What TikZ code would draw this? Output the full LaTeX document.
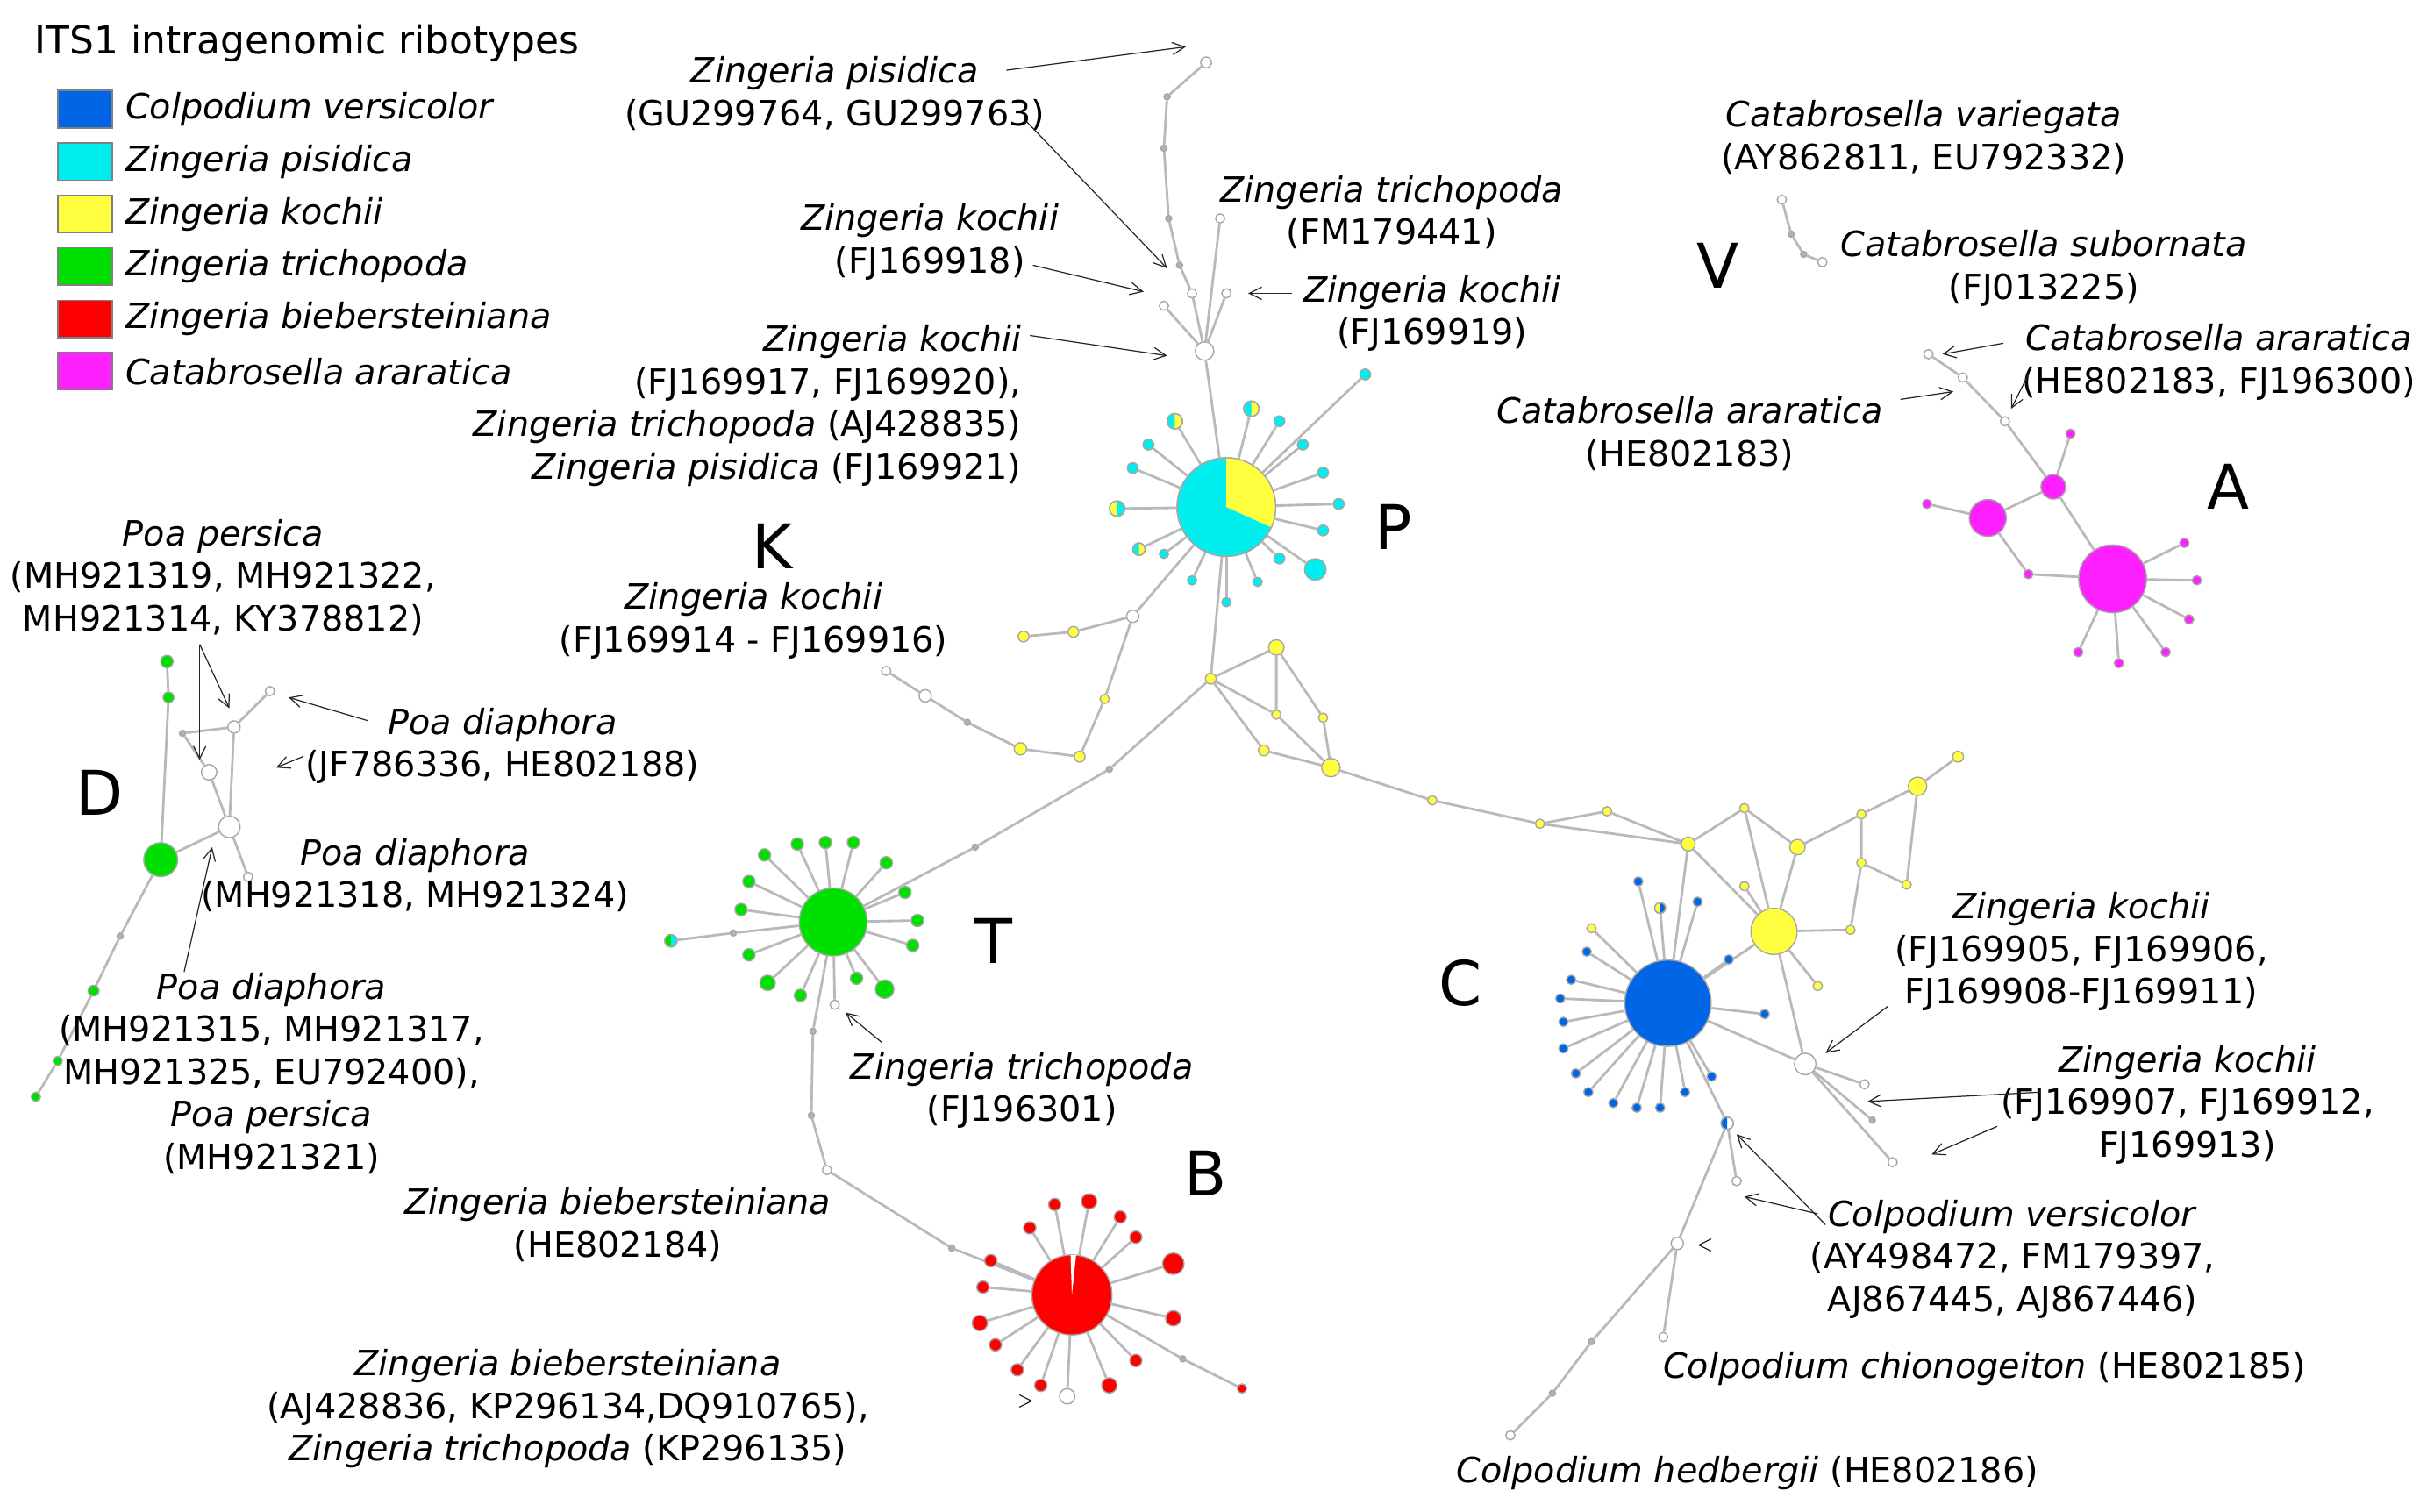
\documentclass[tikz,border=0pt]{standalone}
\usepackage{fontspec}
\setmainfont{DejaVu Sans}
\usetikzlibrary{arrows.meta}
\definecolor{cB}{RGB}{0,102,230}
\definecolor{cC}{RGB}{0,238,238}
\definecolor{cY}{RGB}{255,255,64}
\definecolor{cG}{RGB}{0,224,0}
\definecolor{cR}{RGB}{255,0,0}
\definecolor{cM}{RGB}{255,32,255}
\newcommand{\N}[5]{\node[v,minimum size=#4pt,fill=#5] (#1) at (#2,#3) {};}
\newcommand{\HN}[6]{\node[v,minimum size=#4pt,fill=#5] (#1) at (#2,#3) {};
  \fill[#6] (#1.north) arc[start angle=90,end angle=270,radius=#4*0.5pt] -- cycle;
  \draw[gray!70,line width=0.4pt] (#1) circle[radius=#4*0.5pt];}
\begin{document}
\begin{tikzpicture}[x=0.01779cm,y=-0.01779cm,
  v/.style={circle,draw=gray!70,line width=0.4pt,inner sep=0pt},
  e/.style={draw=gray!55,line width=0.8pt},
  lab/.style={align=center,font=\fontsize{11.3}{13.8}\selectfont,inner sep=0pt},
  big/.style={font=\fontsize{20}{22}\selectfont},
  ar/.style={draw=gray!30!black,line width=0.35pt,-{Straight Barb[length=4pt,width=4pt]}}]
\useasboundingbox (0,0) rectangle (1560,969);
% legend
\node[anchor=west,font=\fontsize{12.5}{14}\selectfont,inner sep=0pt] at (22,28) {ITS1 intragenomic ribotypes};
\foreach \c/\t [count=\i] in {cB/Colpodium versicolor,cC/Zingeria pisidica,cY/Zingeria kochii,cG/Zingeria trichopoda,cR/Zingeria biebersteiniana,cM/Catabrosella araratica}{
  \draw[fill=\c,draw=gray] (37,{70+(\i-1)*33.6-12}) rectangle (72,{70+(\i-1)*33.6+12});
  \node[anchor=west,lab] at (80,{70+(\i-1)*33.6}) {\textit{\t}};}
% P cluster
\N{P}{786}{325}{32}{cC}
\fill[cY] (P.center) -- (P.north) arc[start angle=90,end angle=-25,radius=16pt] -- cycle;
\draw[gray!70,line width=0.4pt] (P) circle[radius=16pt];
\HN{p1}{753}{270}{5}{cY}{cC}\HN{p2}{802}{262}{5}{cY}{cC}
\N{p3}{820}{270}{3.5}{cC}\N{p4}{835}{285}{3.5}{cC}\N{p5}{848}{303}{3.5}{cC}
\N{p6}{858}{323}{3.5}{cC}\N{p7}{848}{340}{3.5}{cC}\N{p8}{843}{365}{7}{cC}
\N{p9}{820}{358}{3.5}{cC}\N{p10}{806}{373}{3}{cC}\N{p11}{786}{386}{3}{cC}
\N{p12}{764}{372}{3}{cC}\N{p13}{746}{355}{3}{cC}\HN{p14}{730}{352}{4}{cY}{cC}
\HN{p15}{716}{326}{5}{cC}{cY}\N{p16}{726}{300}{3.5}{cC}\N{p17}{736}{285}{3.5}{cC}
\N{p18}{875}{240}{3.5}{cC}\N{pt}{772}{225}{6}{white}
\foreach \i in {1,...,18} \draw[e] (P)--(p\i);
\draw[e] (P)--(pt);
\N{t1}{764}{188}{3}{white}\N{t2}{756}{170}{2}{gray!60}\N{t3}{749}{140}{2}{gray!60}
\N{t4}{746}{95}{2}{gray!60}\N{t5}{748}{62}{2}{gray!60}\N{t6}{773}{40}{3.5}{white}
\N{t7}{746}{196}{3}{white}\N{t8}{786}{188}{3}{white}\N{t9}{782}{140}{3}{white}
\draw[e] (pt)--(t1)--(t2)--(t3)--(t4)--(t5)--(t6) (pt)--(t7) (pt)--(t8) (pt)--(t9);
% junctions
\N{j1}{776}{435}{3.5}{cY}\N{j2}{711}{493}{2}{gray!60}\N{j3}{625}{543}{2}{gray!60}
\N{k1}{726}{395}{4}{white}\N{k2}{688}{405}{3.5}{cY}\N{k3}{656}{408}{3.5}{cY}
\N{k4}{708}{448}{3}{cY}\N{k5}{692}{485}{3.5}{cY}\N{k6}{654}{480}{4}{cY}
\N{k7}{620}{463}{2}{gray!60}\N{k8}{593}{446}{4}{white}\N{k9}{568}{430}{3}{white}
\draw[e] (P)--(j1)--(j2)--(j3) (P)--(k1)--(k2)--(k3) (k1)--(k4)--(k5)--(k6)--(k7)--(k8)--(k9);
\N{y1}{818}{415}{5}{cY}\N{y2}{818}{458}{3}{cY}\N{y3}{853}{492}{6}{cY}
\N{y4}{810}{481}{3.5}{cY}\N{y5}{848}{460}{3}{cY}
\draw[e] (j1)--(y1)--(y2)--(y3) (j1)--(y4)--(y3) (y1)--(y5)--(y3) (j1)--(y2);
\N{c1}{918}{513}{3}{cY}\N{c2}{987}{528}{3}{cY}\N{c3}{1030}{520}{3}{cY}
\N{c4}{1082}{541}{4.5}{cY}\N{c5}{1118}{518}{3}{cY}\N{c6}{1152}{543}{5}{cY}
\N{c8}{1193}{522}{3}{cY}\N{c9}{1229}{504}{6}{cY}\N{c10}{1255}{485}{3.5}{cY}
\N{c11}{1193}{553}{3}{cY}\N{c12}{1222}{567}{3}{cY}\N{c13}{1186}{596}{3}{cY}\N{c14}{1165}{632}{3}{cY}
\N{c15}{1118}{568}{3}{cY}
\draw[e] (y3)--(c1)--(c2)--(c3)--(c4)--(c5)--(c6)--(c8)--(c9)--(c10) (c8)--(c11)--(c12)--(c9) (c2)--(c4);
% C cluster
\N{C}{1069}{643}{28}{cB}\N{Y}{1137}{597}{15}{cY}
\draw[e] (c4)--(C) (c4)--(Y) (c6)--(Y) (c5)--(Y) (Y)--(C) (Y)--(c13) (Y)--(c14) (Y)--(c15) (c11)--(c13);
\foreach \x/\y [count=\i] in {1002/655,1007/628,1017/610,1000/640,1002/672,1010/688,1018/700,1034/707,1049/710,1064/710,1080/700,1097/690,1088/578,1050/565,1131/650,1108/615}{
  \N{cb\i}{\x}{\y}{3}{cB}\draw[e] (C)--(cb\i);}
\HN{cb17}{1064}{582}{3.5}{cB}{cY}\draw[e] (C)--(cb17);
\N{cb18}{1020}{595}{3}{cY}\draw[e] (C)--(cb18);
\N{oc}{1157}{682}{7}{white}\N{o1}{1195}{695}{3}{white}\N{o2}{1200}{718}{2}{gray!60}\N{o3}{1213}{745}{3}{white}
\draw[e] (Y)--(oc)--(o1) (oc)--(o2) (oc)--(o3) (C)--(oc);
\HN{h}{1107}{720}{4}{white}{cB}\N{h1}{1113}{757}{3}{white}\N{h2}{1075}{797}{4}{white}
\N{h3}{1066}{857}{3}{white}\N{h4}{1020}{860}{2}{gray!60}\N{h5}{995}{893}{2}{gray!60}\N{h6}{968}{920}{3}{white}
\draw[e] (C)--(h)--(h1) (h)--(h2)--(h3) (h2)--(h4)--(h5)--(h6);
% T cluster
\N{T}{534}{591}{22}{cG}
\foreach \x/\y/\s [count=\i] in {490/548/4,511/541/4,529/540/4,547/540/4,568/553/4,580/572/4,588/590/4,585/606/4,567/634/6,549/627/4,513/638/4,492/630/5,480/612/4,475/583/4,480/565/4}{
  \N{tg\i}{\x}{\y}{\s}{cG}\draw[e] (T)--(tg\i);}
\HN{th}{430}{603}{4}{cC}{cG}\N{tq}{470}{598}{2}{gray!60}\draw[e] (T)--(tq)--(th);
\N{to}{535}{644}{3}{white}\draw[e] (T)--(to);
\draw[e] (j3)--(T);
\N{b1}{521}{661}{2}{gray!60}\N{b2}{520}{715}{2}{gray!60}\N{b3}{530}{750}{3}{white}\N{b4}{610}{800}{2}{gray!60}
\N{B}{687}{830}{26}{cR}
\fill[white] (B.center) -- ++(84:13pt) arc[start angle=84,end angle=92,radius=13pt] -- cycle;
\draw[e] (T)--(b1)--(b2)--(b3)--(b4)--(B);
\foreach \x/\y/\s/\c [count=\i] in {635/808/4/cR,630/825/4/cR,628/848/5/cR,638/862/4/cR,652/878/4/cR,667/888/4/cR,684/895/5/white,711/888/5/cR,728/872/4/cR,752/845/5/cR,752/810/7/cR,728/793/4/cR,718/780/4/cR,698/770/5/cR,676/772/4/cR,660/787/4/cR}{
  \N{br\i}{\x}{\y}{\s}{\c}\draw[e] (B)--(br\i);}
\N{bq}{758}{871}{2}{gray!60}\N{bz}{796}{890}{3}{cR}\draw[e] (B)--(bq)--(bz);
% D cluster
\N{D1}{103}{551}{11}{cG}\N{D2}{147}{530}{7}{white}\N{D3}{134}{495}{5}{white}
\N{D4}{150}{466}{4}{white}\N{D5}{173}{443}{3}{white}\N{D6}{107}{424}{4}{cG}\N{D7}{108}{447}{3.5}{cG}
\N{D8}{117}{470}{2}{gray!60}\N{D9}{159}{562}{3}{white}
\N{d1}{77}{600}{2}{gray!60}\N{d2}{60}{635}{3.5}{cG}\N{d3}{37}{680}{3}{cG}\N{d4}{23}{703}{3}{cG}
\draw[e] (D6)--(D7)--(D1) (D8)--(D4)--(D5) (D8)--(D3)--(D2) (D4)--(D2) (D1)--(D2)--(D9) (D1)--(d1)--(d2)--(d3)--(d4);
% A cluster
\N{A}{1354}{371}{22}{cM}\N{A1}{1316}{312}{8}{cM}\N{A2}{1274}{332}{12}{cM}\N{Aq}{1300}{368}{3}{cM}
\draw[e] (A)--(A1)--(A2)--(Aq)--(A);
\foreach \x/\y [count=\i] in {1332/418,1358/425,1388/418,1403/397,1408/372,1400/348}{\N{am\i}{\x}{\y}{3}{cM}\draw[e] (A)--(am\i);}
\N{am7}{1327}{278}{3}{cM}\draw[e] (A1)--(am7);
\N{am8}{1235}{323}{3}{cM}\draw[e] (A2)--(am8);
\N{a1}{1285}{270}{3}{white}\N{a2}{1258}{242}{3}{white}\N{a3}{1236}{227}{3}{white}
\draw[e] (A1)--(a1)--(a2)--(a3);
\N{v1}{1142}{128}{3}{white}\N{v2}{1148}{150}{2}{gray!60}\N{v3}{1156}{163}{2}{gray!60}\N{v4}{1168}{168}{3}{white}
\draw[e] (v1)--(v2)--(v3)--(v4);
% big letters
\foreach \l/\x/\y in {P/893/338,T/637/603,C/936/630,B/773/752,D/64/508,A/1428/312,V/1101/170,K/495/350}
  \node[big] at (\x,\y) {\l};
% labels
\node[lab] at (535,60) {\textit{Zingeria pisidica}\\(GU299764, GU299763)};
\draw[ar] (645,45)--(760,30); \draw[ar] (658,78)--(748,172);
\node[lab] at (596,155) {\textit{Zingeria kochii}\\(FJ169918)};
\draw[ar] (662,170)--(733,187);
\node[lab] at (892,136) {\textit{Zingeria trichopoda}\\(FM179441)};
\node[lab] at (918,201) {\textit{Zingeria kochii}\\(FJ169919)};
\draw[ar] (828,188)--(800,188);
\node[lab,align=right,anchor=north east] at (655,208) {\textit{Zingeria kochii}\\(FJ169917, FJ169920),\\\textit{Zingeria trichopoda} (AJ428835)\\\textit{Zingeria pisidica} (FJ169921)};
\draw[ar] (660,215)--(748,228);
\node[lab] at (483,398) {\textit{Zingeria kochii}\\(FJ169914 - FJ169916)};
\node[lab] at (143,370) {\textit{Poa persica}\\(MH921319, MH921322,\\MH921314, KY378812)};
\draw[ar] (128,413)--(128,487); \draw[ar] (128,413)--(147,454);
\node[lab] at (322,478) {\textit{Poa diaphora}\\(JF786336, HE802188)};
\draw[ar] (236,462)--(185,447); \draw[ar] (194,485)--(177,492);
\node[lab] at (266,561) {\textit{Poa diaphora}\\(MH921318, MH921324)};
\node[lab] at (174,688) {\textit{Poa diaphora}\\(MH921315, MH921317,\\MH921325, EU792400),\\\textit{Poa persica}\\(MH921321)};
\draw[ar] (118,623)--(136,543);
\node[lab] at (655,699) {\textit{Zingeria trichopoda}\\(FJ196301)};
\draw[ar] (565,668)--(542,649);
\node[lab] at (396,785) {\textit{Zingeria biebersteiniana}\\(HE802184)};
\node[lab] at (364,903) {\textit{Zingeria biebersteiniana}\\(AJ428836, KP296134,DQ910765),\\\textit{Zingeria trichopoda} (KP296135)};
\draw[ar] (552,898)--(662,898);
\node[lab] at (1233,88) {\textit{Catabrosella variegata}\\(AY862811, EU792332)};
\node[lab] at (1310,172) {\textit{Catabrosella subornata}\\(FJ013225)};
\node[lab] at (1422,232) {\textit{Catabrosella araratica}\\(HE802183, FJ196300)};
\draw[ar] (1284,220)--(1245,227); \draw[ar] (1300,240)--(1289,262);
\node[lab] at (1083,278) {\textit{Catabrosella araratica}\\(HE802183)};
\draw[ar] (1218,256)--(1252,251);
\node[lab] at (1334,610) {\textit{Zingeria kochii}\\(FJ169905, FJ169906,\\FJ169908-FJ169911)};
\draw[ar] (1210,645)--(1170,675);
\node[lab] at (1402,708) {\textit{Zingeria kochii}\\(FJ169907, FJ169912,\\FJ169913)};
\draw[ar] (1308,700)--(1197,706); \draw[ar] (1280,722)--(1238,740);
\node[lab] at (1290,807) {\textit{Colpodium versicolor}\\(AY498472, FM179397,\\AJ867445, AJ867446)};
\draw[ar] (1170,785)--(1113,727); \draw[ar] (1165,778)--(1118,767); \draw[ar] (1160,798)--(1088,798);
\node[lab] at (1272,877) {\textit{Colpodium chionogeiton} (HE802185)};
\node[lab] at (1120,944) {\textit{Colpodium hedbergii} (HE802186)};
\end{tikzpicture}
\end{document}
